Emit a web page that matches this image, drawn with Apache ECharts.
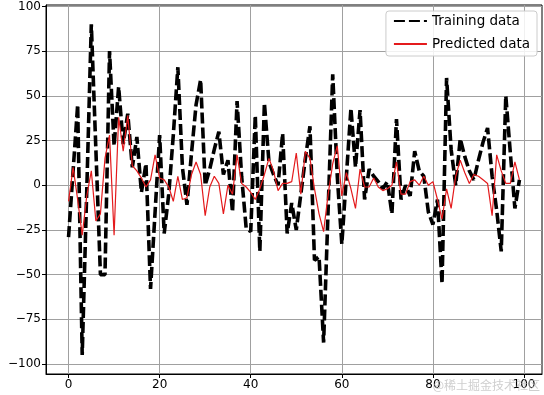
<!DOCTYPE html>
<html><head><meta charset="utf-8">
<script src="https://cdn.jsdelivr.net/npm/echarts@6/dist/echarts.min.js"></script>
<style>html,body{margin:0;padding:0;background:#fff}#c{width:544px;height:395px}</style>
</head><body><div id="c"></div>
<script>
const training = [
  -29, 8, 45, -95, -3, 90, 20, -50, -50, 75,
  22, 55, 23, 40, 10, 27, -4, 12, -58, -15,
  28, -27, -5, 28, 66, 10, -11, 18, 45, 59,
  0, 9, 20, 30, 6, 14, -15, 47, 5, -24,
  -26, 39, -37, 46, 13, 6, 0, 29, -27, -10,
  -25, -5, 15, 33, -42, -40, -88, -13, 62, 5,
  -33, 5, 43, 10, 42, -8, 9, 5, 2, -2,
  2, -16, 37, -8, 0, -6, 19, 8, 5, -15,
  -22, -8, -55, 60, 20, 0, 26, 16, 8, 3,
  14, 24, 32, 5, -14, -37, 50, 18, -13, 3
];
const predicted = [
  -9, 10, -8, -28, -6, 8, -20, -16, 15, 28,
  -28, 38, 19, 39, 11, 8, 4, -1, 3, 17,
  4, 3, -1, -9, 5, -8, -7, 6, 13, 6,
  -17, -1, 5, 1, -16, 0, -5, 17, 1, -1,
  -4, -8, -2, 6, 15, 8, -3, 1, 1, 2,
  18, -5, 19, 15, -2, -16, -26, -5, 12, 22,
  -6, 7, -2, -13, 9, -1, -1, 4, -1, -3,
  -2, 0, 13, -5, -5, 2, 3, 0, 5, 0,
  2, -8, -19, -2, -13, 5, 14, 7, 1, 6,
  5, 3, 1, -17, 17, 8, 1, 1, 13, 3
];
const xTicks = [0, 20, 40, 60, 80, 100];
const yTicks = [-100, -75, -50, -25, 0, 25, 50, 75, 100];
const seriesNames = ['Training data', 'Predicted data'];

const toPairs = arr => arr.map((v, i) => [i, v]);
const fmt = v => String(v).replace('-', '\u2212');
const chart = echarts.init(document.getElementById('c'), null, {renderer: 'canvas'});
const font = 'DejaVu Sans';
chart.setOption({
  animation: false,
  backgroundColor: '#fff',
  grid: {left: 46, right: 2, top: 5, bottom: 21, show: true, borderColor: '#000', borderWidth: 1},
  xAxis: {
    type: 'value', min: -4.95, max: 103.95,
    axisLine: {show: true, onZero: false, lineStyle: {color: '#000', width: 1}},
    axisTick: {show: true, customValues: xTicks, length: 4, lineStyle: {color: '#000'}},
    axisLabel: {customValues: xTicks, color: '#000', fontFamily: font, fontSize: 12, margin: 5, formatter: fmt},
    splitLine: {show: true, lineStyle: {color: '#a0a0a0', width: 1}}
  },
  yAxis: {
    type: 'value', min: -105.6, max: 100.8,
    axisLine: {show: true, onZero: false, lineStyle: {color: '#000', width: 1}},
    axisTick: {show: true, customValues: yTicks, length: 4, lineStyle: {color: '#000'}},
    axisLabel: {customValues: yTicks, color: '#000', fontFamily: font, fontSize: 12, margin: 5, formatter: fmt},
    splitLine: {show: true, lineStyle: {color: '#a0a0a0', width: 1}}
  },
  legend: {
    orient: 'vertical', right: 7, top: 11,
    itemWidth: 33, itemHeight: 14, itemGap: 9,
    padding: [3, 7, 5, 7],
    backgroundColor: 'rgba(255,255,255,0.85)', borderColor: '#cccccc', borderWidth: 1, borderRadius: 3,
    itemStyle: {opacity: 0},
    textStyle: {fontFamily: font, fontSize: 13.5, color: '#000'},
    data: seriesNames
  },
  graphic: [{
    type: 'text', right: 4, bottom: 4, z: 100,
    style: {text: '@稀土掘金技术社区', fill: 'rgba(185,185,185,0.7)', font: '12px "Noto Sans CJK SC"'}
  }],
  series: [
    {name: seriesNames[0], type: 'line', data: toPairs(training), symbol: 'none',
     lineStyle: {color: '#000', width: 3.6, type: [11, 4]}, itemStyle: {color: '#000'}},
    {name: seriesNames[1], type: 'line', data: toPairs(predicted), symbol: 'none',
     lineStyle: {color: '#e41a1c', width: 1.2}, itemStyle: {color: '#e41a1c'}}
  ]
});
</script></body></html>
